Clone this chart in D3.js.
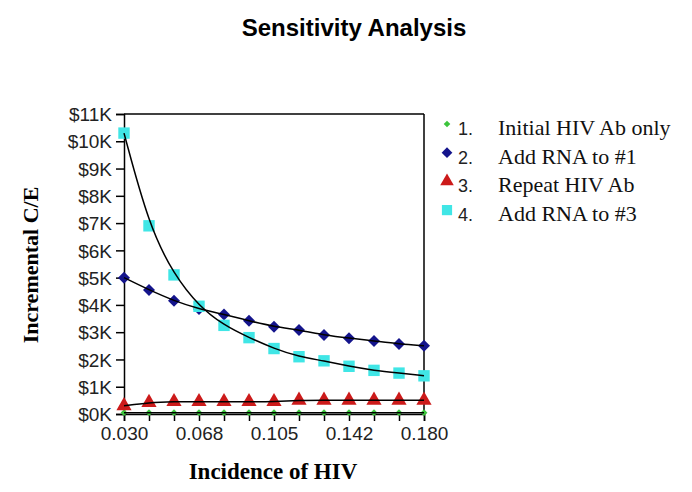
<!DOCTYPE html>
<html><head><meta charset="utf-8">
<script src="https://cdn.jsdelivr.net/npm/d3@7/dist/d3.min.js"></script>
<style>body{margin:0;background:#fff}</style>
</head><body><div id="chart"></div>
<script>
const incidence = [0.030,0.0425,0.055,0.0675,0.080,0.0925,0.105,0.1175,0.130,0.1425,0.155,0.1675,0.180];
const xTickValues = [0.030,0.0675,0.105,0.1425,0.180];
const xTickLabels = ["0.030","0.068","0.105","0.142","0.180"];
const yTickValues = [0,1,2,3,4,5,6,7,8,9,10,11];
const s1_initialAb = [0.05,0.05,0.05,0.05,0.05,0.05,0.05,0.05,0.05,0.05,0.05,0.05,0.05];
const s2_addRna1 = [5.0,4.55,4.15,3.85,3.65,3.42,3.2,3.08,2.9,2.78,2.68,2.57,2.5];
const s3_repeatAb = [0.3,0.42,0.45,0.45,0.45,0.45,0.45,0.5,0.5,0.5,0.5,0.5,0.5];
const s4_addRna3 = [10.3,6.9,5.1,3.95,3.25,2.8,2.4,2.1,1.95,1.75,1.6,1.5,1.4];
const seriesNames = ["Initial HIV Ab only","Add RNA to #1","Repeat HIV Ab","Add RNA to #3"];

const W=692,H=492;
const svg=d3.select("#chart").append("svg").attr("width",W).attr("height",H);
const x=d3.scaleLinear().domain([0.03,0.18]).range([124,424]);
const y=d3.scaleLinear().domain([0,11]).range([414,114]);

svg.append("text").attr("x",354).attr("y",36).attr("text-anchor","middle")
  .style("font-family","Liberation Sans, Arial, sans-serif").style("font-weight","bold").style("font-size","24px")
  .text("Sensitivity Analysis");

svg.append("line").attr("x1",124).attr("x2",424).attr("y1",114).attr("y2",114).attr("stroke","#000").attr("stroke-width",1.5);
svg.append("line").attr("x1",424).attr("x2",424).attr("y1",114).attr("y2",414).attr("stroke","#000").attr("stroke-width",1.5);

const tickFont="Liberation Sans, Arial, sans-serif";
const yAxis=svg.append("g").attr("transform","translate(124,0)")
  .call(d3.axisLeft(y).tickValues(yTickValues).tickSize(8).tickPadding(4).tickFormat(d=>"$"+d+"K"));
const xAxis=svg.append("g").attr("transform","translate(0,414)")
  .call(d3.axisBottom(x).tickValues(incidence).tickSize(7).tickPadding(6)
    .tickFormat(d=>{const i=xTickValues.findIndex(v=>Math.abs(v-d)<1e-6);return i>=0?xTickLabels[i]:"";}));
[yAxis,xAxis].forEach(g=>{
  g.select(".domain").attr("stroke","#000").attr("stroke-width",1.5);
  g.selectAll(".tick line").attr("stroke","#000").attr("stroke-width",1.5);
  g.selectAll(".tick text").style("font-family",tickFont).style("font-size","19px").attr("fill","#222");
});
yAxis.selectAll(".tick text").attr("dy","0.35em");

svg.append("text").attr("transform","translate(38,265) rotate(-90)").attr("text-anchor","middle")
  .style("font-family","Liberation Serif, Times New Roman, serif").style("font-weight","bold").style("font-size","22px")
  .text("Incremental C/E");
svg.append("text").attr("x",273).attr("y",479).attr("text-anchor","middle")
  .style("font-family","Liberation Serif, Times New Roman, serif").style("font-weight","bold").style("font-size","23px")
  .text("Incidence of HIV");

const all=[s1_initialAb,s2_addRna1,s3_repeatAb,s4_addRna3];
const colors=["#3cc43c","#14148c","#cc1a1a","#40e6e6"];
const symbols=[d3.symbolSquare,d3.symbolSquare,d3.symbolTriangle,d3.symbolSquare];
const rot=[45,45,0,0];
const sizes=[24,72,100,130];

all.forEach((s,k)=>{
  svg.append("g").selectAll("path").data(s).join("path")
    .attr("transform",(d,i)=>`translate(${x(incidence[i])},${y(d)}) rotate(${rot[k]})`)
    .attr("d",d3.symbol().type(symbols[k]).size(sizes[k]))
    .attr("fill",colors[k]);
});
const line=d3.line().x((d,i)=>x(incidence[i])).y(d=>y(d)).curve(d3.curveBasis);
all.forEach(s=>{
  svg.append("path").attr("d",line(s)).attr("fill","none").attr("stroke","#000").attr("stroke-width",1.5);
});

const lg=svg.append("g");
seriesNames.forEach((n,k)=>{
  const yy=129+k*28.7;
  lg.append("path").attr("transform",`translate(447,${yy-5}) rotate(${rot[k]})`)
    .attr("d",d3.symbol().type(symbols[k]).size(k===0?22:sizes[k]*0.8)).attr("fill",colors[k]);
  lg.append("text").attr("x",458).attr("y",yy+6).style("font-family",tickFont).style("font-size","18px").attr("fill","#222").text((k+1)+".");
  lg.append("text").attr("x",498).attr("y",yy+6).style("font-family","Liberation Serif, Times New Roman, serif").style("font-size","22px").attr("fill","#111").text(n);
});
</script></body></html>
